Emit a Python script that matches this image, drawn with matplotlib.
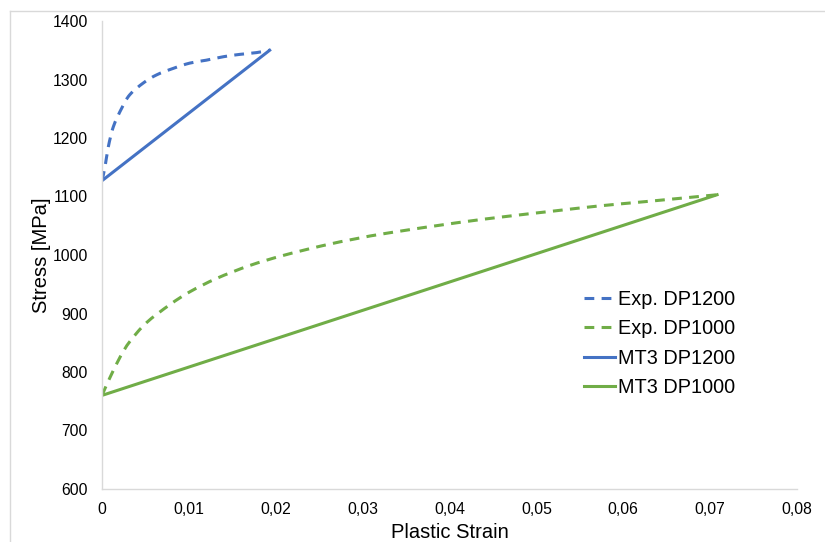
import matplotlib
matplotlib.use("Agg")
import matplotlib.pyplot as plt
from matplotlib.lines import Line2D
from matplotlib.path import Path
from matplotlib.patches import PathPatch
from matplotlib.ticker import FuncFormatter

plt.rcParams['font.family'] = ['Liberation Sans', 'DejaVu Sans']

# Experimental flow curves
exp_dp1200_strain = [0.0, 0.00035, 0.00073, 0.0013, 0.00227, 0.0032, 0.00475,
                     0.0063, 0.0082, 0.0101, 0.0120, 0.0140, 0.0159, 0.0178,
                     0.0193]
exp_dp1200_stress = [1127, 1151, 1185, 1219, 1251, 1274, 1294,
                     1308, 1319, 1328, 1333, 1339, 1343, 1346,
                     1350]

exp_dp1000_strain = [0.0, 0.0009, 0.0021, 0.0032, 0.0051, 0.0078, 0.0101,
                     0.0132, 0.0170, 0.0208, 0.0254, 0.0293, 0.0331, 0.0408,
                     0.0466, 0.0519, 0.0573, 0.0631, 0.0708]
exp_dp1000_stress = [760, 790, 826, 852, 884, 915, 937,
                     960, 982, 999, 1016, 1028, 1038, 1055,
                     1066, 1075, 1084, 1092, 1103]

# MT3 model (linear hardening)
mt3_dp1200_strain = [0.0, 0.0193]
mt3_dp1200_stress = [1127, 1350]
mt3_dp1000_strain = [0.0, 0.0708]
mt3_dp1000_stress = [760, 1103]

x_ticks = [0, 0.01, 0.02, 0.03, 0.04, 0.05, 0.06, 0.07, 0.08]
y_ticks = [600, 700, 800, 900, 1000, 1100, 1200, 1300, 1400]

BLUE = '#4472C4'
GREEN = '#70AD47'
GRID = '#D9D9D9'

fig = plt.figure(figsize=(8.25, 5.42), dpi=100)
ax = fig.add_axes([102 / 825, 1 - 489 / 542, (797 - 102) / 825, (489 - 21) / 542])
ax.set_xlim(0, 0.08)
ax.set_ylim(600, 1400)

lw = 2.2
dash = (3.2, 2.4)


def smooth_path(ax, xs, ys):
    """Catmull-Rom smoothed line through the points, built as cubic Bezier
    segments in screen space so the curvature looks even on both axes."""
    pts = ax.transData.transform(list(zip(xs, ys)))
    n = len(pts)
    verts = [pts[0]]
    codes = [Path.MOVETO]
    for i in range(n - 1):
        p0 = pts[i - 1] if i > 0 else pts[i]
        p1 = pts[i]
        p2 = pts[i + 1]
        p3 = pts[i + 2] if i + 2 < n else pts[i + 1]
        c1 = p1 + (p2 - p0) / 6.0
        c2 = p2 - (p3 - p1) / 6.0
        verts += [c1, c2, p2]
        codes += [Path.CURVE4] * 3
    verts = ax.transData.inverted().transform(verts)
    return Path(verts, codes)


def smooth_line(ax, xs, ys, color, dashes=None):
    patch = PathPatch(smooth_path(ax, xs, ys), facecolor='none',
                      edgecolor=color, lw=lw, capstyle='butt',
                      joinstyle='round')
    if dashes is not None:
        patch.set_linestyle((0, dashes))
    ax.add_patch(patch)


smooth_line(ax, exp_dp1200_strain, exp_dp1200_stress, BLUE, dash)
smooth_line(ax, exp_dp1000_strain, exp_dp1000_stress, GREEN, dash)
ax.plot(mt3_dp1200_strain, mt3_dp1200_stress, color=BLUE, lw=lw)
ax.plot(mt3_dp1000_strain, mt3_dp1000_stress, color=GREEN, lw=lw)

ax.set_xticks(x_ticks)
ax.set_yticks(y_ticks)


def comma_fmt(v, pos):
    if abs(v) < 1e-12:
        return '0'
    return f'{v:.2f}'.replace('.', ',')


ax.xaxis.set_major_formatter(FuncFormatter(comma_fmt))
ax.tick_params(axis='both', length=0, labelsize=11.3, colors='#000000')
ax.tick_params(axis='x', pad=9)
ax.tick_params(axis='y', pad=10)

for side in ('top', 'right'):
    ax.spines[side].set_visible(False)
for side in ('left', 'bottom'):
    ax.spines[side].set_color(GRID)
    ax.spines[side].set_linewidth(1.0)

ax.set_xlabel('Plastic Strain', fontsize=14.5, labelpad=5)
ax.set_ylabel('Stress [MPa]', fontsize=14.5, labelpad=1)

handles = [
    Line2D([], [], color=BLUE, lw=lw, dashes=dash),
    Line2D([], [], color=GREEN, lw=lw, dashes=dash),
    Line2D([], [], color=BLUE, lw=lw),
    Line2D([], [], color=GREEN, lw=lw),
]
labels = ['Exp. DP1200', 'Exp. DP1000', 'MT3 DP1200', 'MT3 DP1000']
ax.legend(handles, labels, loc='upper left',
          bbox_to_anchor=(584 / 825, 1 - 290 / 542),
          bbox_transform=fig.transFigure, frameon=False, fontsize=14.3,
          handlelength=1.55, handletextpad=0.15, labelspacing=0.52,
          borderaxespad=0, borderpad=0)

# chart-area outline
fig.add_artist(Line2D([10 / 825, 10 / 825], [0, 1 - 11 / 542],
                      transform=fig.transFigure, color=GRID, lw=1))
fig.add_artist(Line2D([10 / 825, 1], [1 - 11 / 542, 1 - 11 / 542],
                      transform=fig.transFigure, color=GRID, lw=1))

fig.savefig('out.png', dpi=100)
